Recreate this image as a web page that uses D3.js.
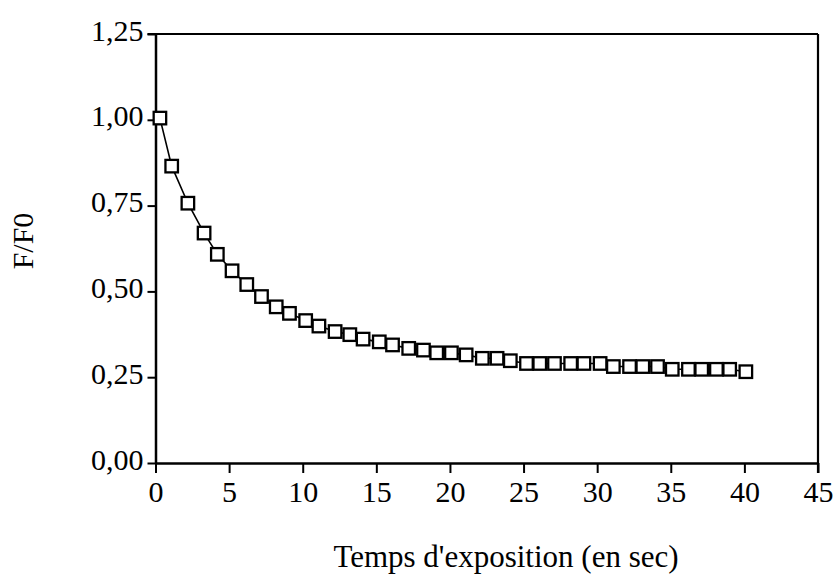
<!DOCTYPE html>
<html><head><meta charset="utf-8">
<script src="https://cdn.jsdelivr.net/npm/d3@7"></script>
<style>body{margin:0;background:#fff}svg{display:block}</style>
</head><body>
<svg id="c" width="837" height="575"></svg>
<script>
const timeValues = [0.3,1.1,2.2,3.3,4.2,5.2,6.2,7.2,8.2,9.1,10.2,11.1,12.2,13.2,14.1,15.2,16.1,17.2,18.2,19.1,20.1,21.1,22.2,23.2,24.1,25.2,26.1,27.1,28.2,29.1,30.2,31.1,32.2,33.1,34.1,35.1,36.2,37.1,38.1,39.0,40.1];
const ratioValues = [1.005,0.865,0.757,0.67,0.608,0.56,0.52,0.485,0.455,0.436,0.415,0.399,0.383,0.374,0.361,0.353,0.344,0.334,0.329,0.321,0.321,0.315,0.305,0.305,0.298,0.290,0.290,0.290,0.290,0.290,0.290,0.281,0.281,0.281,0.281,0.273,0.273,0.273,0.273,0.273,0.266];
const xTicks = [0,5,10,15,20,25,30,35,40,45];
const yTicks = [0,0.25,0.5,0.75,1.0,1.25];
const xTitle = "Temps d'exposition (en sec)";
const yTitle = "F/F0";

const svg = d3.select("#c");
const L = 155.5, R = 818, T = 34, B = 463;
const x = d3.scaleLinear().domain([0,45]).range([L,R]);
const y = d3.scaleLinear().domain([0,1.25]).range([B,T]);
const font = "'Liberation Serif','Times New Roman',serif";
const fmt = d => d3.format(".2f")(d).replace(".", ",");

// frame top & right
svg.append("line").attr("x1",L-8).attr("x2",R).attr("y1",T).attr("y2",T).attr("stroke","#000").attr("stroke-width",2.2);
svg.append("line").attr("x1",R).attr("x2",R).attr("y1",T).attr("y2",B+10).attr("stroke","#000").attr("stroke-width",2.2);

const ax = svg.append("g").attr("transform",`translate(0,${B})`)
  .call(d3.axisBottom(x).tickValues(xTicks).tickSize(10).tickSizeOuter(0).tickPadding(8));
const ay = svg.append("g").attr("transform",`translate(${L},0)`)
  .call(d3.axisLeft(y).tickValues(yTicks).tickSize(8).tickSizeOuter(0).tickPadding(4).tickFormat(fmt));
[ax,ay].forEach(g=>{
  g.selectAll("path.domain").attr("stroke","#000").attr("stroke-width",2.5);
  g.selectAll(".tick line").attr("stroke","#000").attr("stroke-width",2);
  g.selectAll("text").attr("fill","#000").style("font-family",font).style("font-size","30px");
});
ay.selectAll("text").attr("dy","0.2em");
ax.selectAll("text").attr("dy","0.71em");

// line
svg.append("path").datum(d3.zip(timeValues,ratioValues))
  .attr("fill","none").attr("stroke","#000").attr("stroke-width",1.6)
  .attr("d", d3.line().x(d=>x(d[0])).y(d=>y(d[1])));

// markers
const s = 12.5;
svg.append("g").selectAll("rect").data(d3.zip(timeValues,ratioValues)).join("rect")
  .attr("x",d=>x(d[0])-s/2).attr("y",d=>y(d[1])-s/2).attr("width",s).attr("height",s)
  .attr("fill","#fff").attr("stroke","#000").attr("stroke-width",2.3);

// titles
svg.append("text").attr("x",506).attr("y",567).attr("text-anchor","middle")
  .style("font-family",font).style("font-size","31px").text(xTitle);
svg.append("text").attr("transform","translate(33,241) rotate(-90)").attr("text-anchor","middle")
  .style("font-family",font).style("font-size","30px").text(yTitle);
</script>
</body></html>
